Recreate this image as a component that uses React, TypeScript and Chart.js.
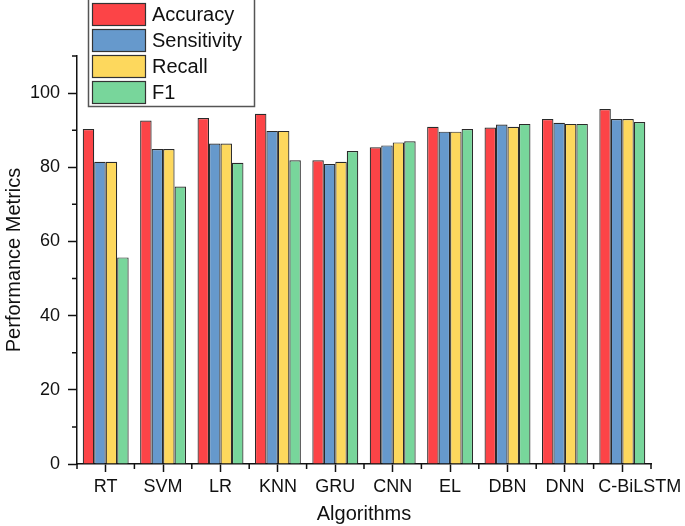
import React, { useEffect, useRef } from "react";
import { Chart, registerables } from "chart.js";

Chart.register(...registerables);

const categories = ["RT", "SVM", "LR", "KNN", "GRU", "CNN", "EL", "DBN", "DNN", "C-BiLSTM"];
const accuracy = [90.3, 92.6, 93.3, 94.4, 81.9, 85.4, 90.9, 90.7, 93.0, 95.7];
const sensitivity = [81.5, 84.9, 86.4, 89.8, 80.9, 85.9, 89.6, 91.5, 92.0, 93.0];
const recall = [81.5, 84.9, 86.4, 89.8, 81.5, 86.7, 89.6, 90.9, 91.7, 93.0];
const f1 = [55.7, 74.8, 81.2, 81.9, 84.4, 87.0, 90.3, 91.7, 91.7, 92.2];
const yMajorTicks = [0, 20, 40, 60, 80, 100];
const yMinorTicks = [10, 30, 50, 70, 90, 110];
const seriesNames = ["Accuracy", "Sensitivity", "Recall", "F1"];
const seriesColors = ["#FC4447", "#6699CC", "#FDD85D", "#78D69B"];

const FONT = "'Liberation Sans', Arial, sans-serif";
const INK = "#111";

const minorTicksPlugin = {
  id: "minorTicks",
  afterDraw(chart: any) {
    const ctx = chart.ctx;
    const ys = chart.scales.y;
    const area = chart.chartArea;
    ctx.save();
    ctx.strokeStyle = INK;
    ctx.lineWidth = 1.5;
    ctx.beginPath();
    for (const v of yMinorTicks) {
      const py = ys.getPixelForValue(v);
      ctx.moveTo(area.left - 5, py);
      ctx.lineTo(area.left, py);
    }
    const n = categories.length;
    for (let i = 0; i <= n; i++) {
      const px = area.left + ((area.right - area.left) * i) / n;
      ctx.moveTo(px, area.bottom);
      ctx.lineTo(px, area.bottom + 5);
    }
    ctx.stroke();
    ctx.restore();
  },
};

const boxLegendPlugin = {
  id: "boxLegend",
  afterDraw(chart: any) {
    const ctx = chart.ctx;
    ctx.save();
    const bx = 88.5, by = -1, bw = 166, bh = 107.5;
    ctx.fillStyle = "#fff";
    ctx.fillRect(bx, by, bw, bh);
    ctx.strokeStyle = "#555";
    ctx.lineWidth = 1.5;
    ctx.strokeRect(bx, by, bw, bh);
    ctx.font = `20px ${FONT}`;
    ctx.textBaseline = "middle";
    ctx.textAlign = "left";
    chart.data.datasets.forEach((ds: any, i: number) => {
      const sy = 3 + i * 26;
      ctx.fillStyle = ds.backgroundColor;
      ctx.fillRect(92, sy, 54, 23);
      ctx.strokeStyle = "#333";
      ctx.lineWidth = 1.2;
      ctx.strokeRect(92.5, sy + 0.5, 53, 22);
      ctx.fillStyle = INK;
      ctx.fillText(ds.label, 152, sy + 12);
    });
    ctx.restore();
  },
};

export default function App() {
  const ref = useRef<HTMLCanvasElement>(null);
  useEffect(() => {
    if (!ref.current) return;
    const series = [accuracy, sensitivity, recall, f1];
    const chart = new Chart(ref.current, {
      type: "bar",
      data: {
        labels: categories,
        datasets: series.map((d, i) => ({
          label: seriesNames[i],
          data: d,
          backgroundColor: seriesColors[i],
          borderColor: "#2a2a2a",
          borderWidth: 1.2,
          categoryPercentage: 0.8,
          barPercentage: 1.0,
        })),
      },
      options: {
        responsive: false,
        animation: false,
        layout: { padding: { top: 56, right: 34, left: 0, bottom: 0 } },
        plugins: {
          legend: { display: false },
          tooltip: { enabled: false },
        },
        scales: {
          x: {
            offset: true,
            grid: {
              offset: false,
              drawOnChartArea: false,
              tickLength: 8,
              tickColor: INK,
              tickWidth: 1.5,
            },
            border: { color: INK, width: 1.5 },
            ticks: {
              color: INK,
              font: { size: 18, family: FONT },
              padding: 4,
              maxRotation: 0,
              autoSkip: false,
              callback(_v: any, i: number) {
                const lab = categories[i];
                return i === categories.length - 1 ? "       " + lab : lab;
              },
            },
            title: {
              display: true,
              text: "Algorithms",
              color: INK,
              font: { size: 20, family: FONT },
              padding: { top: 0, bottom: 0 },
            },
            afterFit(scale: any) {
              scale.height = 62;
              scale.paddingLeft = 0;
              scale.paddingRight = 0;
            },
          },
          y: {
            min: 0,
            max: 110,
            grid: {
              drawOnChartArea: false,
              tickLength: 9,
              tickColor: INK,
              tickWidth: 1.5,
            },
            border: { color: INK, width: 1.5 },
            ticks: {
              color: INK,
              font: { size: 18, family: FONT },
              padding: 8,
            },
            afterBuildTicks(scale: any) {
              scale.ticks = yMajorTicks.map((v) => ({ value: v }));
            },
            title: {
              display: true,
              text: "Performance Metrics",
              color: INK,
              font: { size: 20, family: FONT },
              padding: { top: 2, bottom: 4 },
            },
            afterFit(scale: any) {
              scale.width = 77;
            },
          },
        },
      },
      plugins: [minorTicksPlugin, boxLegendPlugin],
    });
    return () => chart.destroy();
  }, []);
  return (
    <div style={{ position: "absolute", left: 0, top: 0, width: 685, height: 526, background: "#fff" }}>
      <canvas ref={ref} width={685} height={526} />
    </div>
  );
}
